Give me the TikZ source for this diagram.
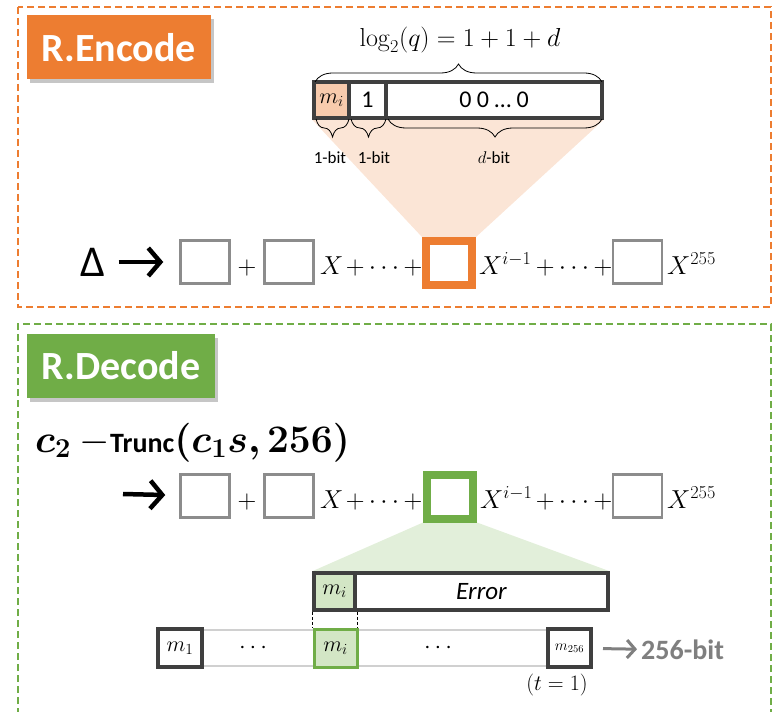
\RequirePackage{fix-cm}
\documentclass[tikz,border=0pt]{standalone}
\usepackage{amsmath,bm}
\usepackage[no-math]{fontspec}
\setmainfont{Carlito}
\usetikzlibrary{arrows.meta,decorations.pathreplacing,shadows,backgrounds}

\definecolor{encorange}{HTML}{ED7D31}
\definecolor{decgreen}{HTML}{70AD47}
\definecolor{peachlight}{HTML}{FBE5D6}
\definecolor{peach}{HTML}{F8CBAD}
\definecolor{mintlight}{HTML}{E2EFDA}
\definecolor{mint}{HTML}{D3E6C5}
\definecolor{bardark}{HTML}{3F3F3F}
\definecolor{slotgray}{HTML}{8C8C8C}
\definecolor{stripgray}{HTML}{D0D0D0}
\definecolor{bitgray}{HTML}{7F7F7F}

\newcommand{\plusdots}{${+}\,{\cdots}\,{+}$}

\begin{document}
\begin{tikzpicture}[x=1pt,y=-1pt,
    tag/.style={text=white, font=\fontsize{40}{44}\bfseries, minimum height=64pt, inner sep=0pt,
        drop shadow={opacity=0.45, shadow xshift=3pt, shadow yshift=-4pt}},
    cell/.style={draw=bardark, line width=3.5pt, inner sep=0pt},
    slot/.style={draw=slotgray, line width=2.5pt, fill=white, minimum width=49pt, minimum height=43pt, inner sep=0pt},
    hotslot/.style={draw=#1, line width=8pt, fill=white, minimum width=46pt, minimum height=44pt, inner sep=0pt},
    mathtxt/.style={font=\fontsize{26}{30}\selectfont, inner sep=0pt},
    bitlbl/.style={font=\fontsize{17}{20}\selectfont, inner sep=0pt},
    fatarrow/.style={line width=4.5pt, -{Straight Barb[length=12pt,width=28pt,line width=4.5pt]}},
    bracedn/.style={decorate, decoration={brace, amplitude=18pt}, thick}]

    \useasboundingbox (0,0) rectangle (775,711);

    % Encode frame and tag
    \draw[encorange, line width=2pt, dash pattern=on 7pt off 4pt] (18,7) rectangle (771,307);
    \node[tag, fill=encorange, minimum width=184pt] (enctag) at (119,47.5) {R.Encode};

    % Encoded coefficient: bit layout
    \node[font=\fontsize{26}{30}\selectfont, inner sep=0pt] (logq) at (460,40) {$\log_2(q) = 1 + 1 + d$};
    \node[cell, fill=peach, minimum width=35pt, minimum height=36pt] (emi) at (331.5,100) {\fontsize{22}{26}\selectfont$m_i$};
    \node[cell, fill=white, minimum width=37pt, minimum height=36pt] (eone) at (367.5,100) {\fontsize{24}{28}\selectfont 1};
    \node[cell, fill=white, minimum width=216pt, minimum height=36pt] (ezero) at (494,100) {\fontsize{24}{28}\selectfont 0 0 … 0};

    % Braces
    \draw[bracedn] (315,82) -- (602,82);
    \draw[bracedn] (349,119) -- (316,119);
    \draw[bracedn] (386,119) -- (351,119);
    \draw[bracedn] (602,119) -- (388,119);
    \node[bitlbl] (bit1) at (330,158) {1-bit};
    \node[bitlbl] (bit2) at (374,158) {1-bit};
    \node[bitlbl] (bitd) at (494,158) {$d$-bit};

    % Encode polynomial
    \node[font=\fontsize{44}{48}\selectfont, inner sep=0pt] (delta) at (93,262) {Δ};
    \node[slot] (e1) at (205,262) {};
    \node[mathtxt, anchor=base] (ep1) at (247,274) {$+$};
    \node[slot] (e2) at (289,262) {};
    \node[mathtxt, anchor=base west] (ex1) at (320,274) {$X$};
    \node[mathtxt, anchor=base] (edots1) at (384,274) {\plusdots};
    \node[hotslot=encorange] (ei) at (449,263) {};
    \node[mathtxt, anchor=base west] (exi) at (479,274) {$X^{i-1}$};
    \node[mathtxt, anchor=base] (edots2) at (574,274) {\plusdots};
    \node[slot] (e4) at (637.5,262) {};
    \node[mathtxt, anchor=base west] (ex4) at (667,274) {$X^{255}$};
    \draw[fatarrow, shorten <=13pt, shorten >=16pt] (delta) -- (e1);

    % Decode frame and tag
    \draw[decgreen, line width=2pt, dash pattern=on 7pt off 4pt] (18,715) -- (18,324) -- (771,324) -- (771,715);
    \node[tag, fill=decgreen, minimum width=188pt] (dectag) at (121,366) {R.Decode};

    % Decode input
    \node[anchor=base west, inner sep=0pt] (trunc) at (35,452)
        {\fontsize{39}{42}\selectfont$\bm{c_2}$ $-$\fontsize{28}{30}\selectfont\textbf{Trunc}\fontsize{39}{42}\selectfont$\bm{(c_1 s, 256)}$};

    % Decode polynomial
    \coordinate (dstart) at (123,494);
    \node[slot] (d1) at (205,496) {};
    \node[mathtxt, anchor=base] (dp1) at (247,508) {$+$};
    \node[slot] (d2) at (289,496) {};
    \node[mathtxt, anchor=base west] (dx1) at (320,508) {$X$};
    \node[mathtxt, anchor=base] (ddots1) at (384,508) {\plusdots};
    \node[hotslot=decgreen] (di) at (450,496.5) {};
    \node[mathtxt, anchor=base west] (dxi) at (480,508) {$X^{i-1}$};
    \node[mathtxt, anchor=base] (ddots2) at (574,508) {\plusdots};
    \node[slot] (d4) at (637.5,496) {};
    \node[mathtxt, anchor=base west] (dx4) at (667,508) {$X^{255}$};
    \draw[fatarrow, shorten >=14pt] (dstart) -- (d1);

    % Noisy coefficient
    \node[cell, fill=mint, minimum width=41pt, minimum height=37pt] (dmi) at (334.5,591.5) {\fontsize{22}{26}\selectfont$m_i$};
    \node[cell, fill=white, minimum width=253pt, minimum height=37pt] (derr) at (481.5,591.5) {\fontsize{25}{28}\selectfont\itshape Error};

    % Recovered message bits
    \node[draw=stripgray, line width=2.5pt, minimum width=433pt, minimum height=36pt, inner sep=0pt] (strip) at (374.5,648) {};
    \node[cell, fill=white, line width=4pt, minimum width=44pt, minimum height=38pt] (m1) at (180,648) {\fontsize{22}{26}\selectfont$m_1$};
    \node[mathtxt, font=\fontsize{24}{26}\selectfont] (mdots1) at (255,648) {$\cdots$};
    \node[cell, draw=decgreen, line width=3pt, fill=mint, minimum width=43pt, minimum height=38pt] (mi) at (335.5,648) {\fontsize{22}{26}\selectfont$m_i$};
    \node[mathtxt, font=\fontsize{24}{26}\selectfont] (mdots2) at (440,648) {$\cdots$};
    \node[cell, fill=white, line width=4pt, minimum width=43pt, minimum height=38pt] (m256) at (569.5,648) {\fontsize{15}{18}\selectfont$m_{256}$};
    \node[anchor=west, text=bitgray, font=\fontsize{28}{32}\bfseries, inner sep=0pt] (bits) at (641,650) {256-bit};
    \draw[bitgray, line width=3pt, -{Straight Barb[length=8pt,width=18pt,line width=3pt]}, shorten <=10pt, shorten >=4pt] (m256) -- (bits);
    \node[font=\fontsize{22}{26}\selectfont, inner sep=0pt] (tone) at (557,685) {$(t = 1)$};

    % Dashed guides between the two m_i
    \draw[densely dashed, thin] (dmi.south west) -- (dmi.south west |- mi.north);
    \draw[densely dashed, thin] (dmi.south east) -- (dmi.south east |- mi.north);

    % Zoom wedges
    \begin{pgfonlayer}{background}
        \fill[peachlight] (emi.south west) -- (ezero.south east) -- (ei.north east) -- (ei.north west) -- cycle;
        \fill[mintlight] (di.south west) -- (di.south east) -- (derr.north east) -- (dmi.north west) -- cycle;
    \end{pgfonlayer}

\end{tikzpicture}
\end{document}
